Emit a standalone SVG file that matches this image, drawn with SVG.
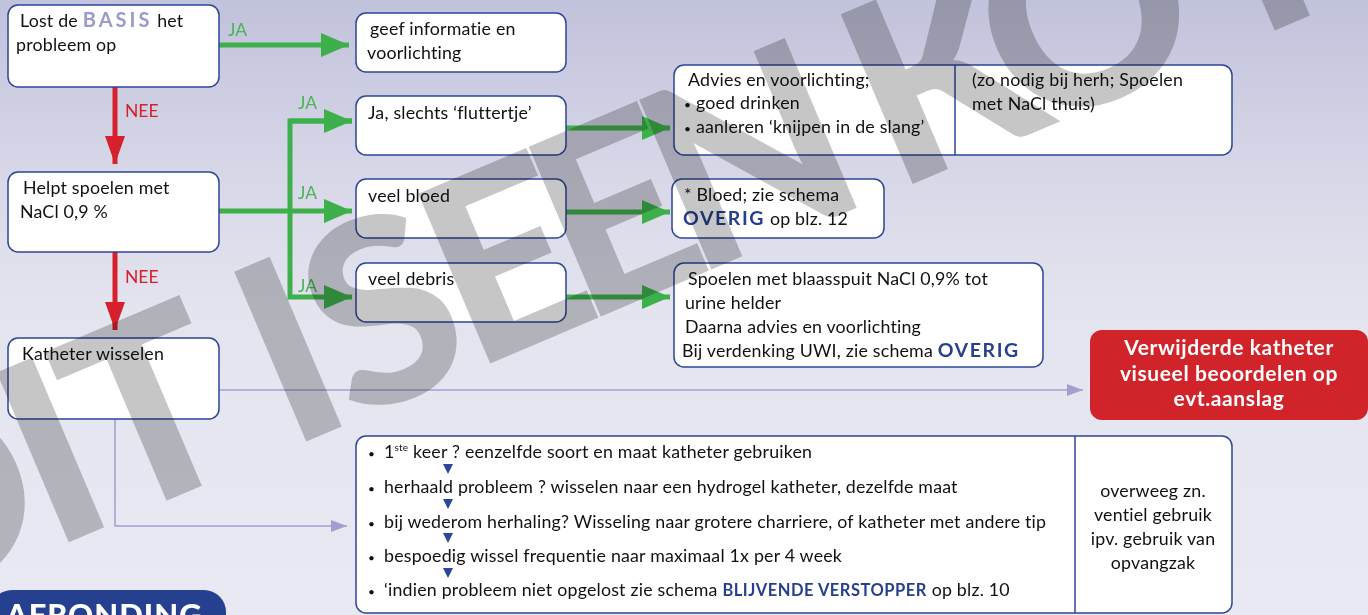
<svg xmlns="http://www.w3.org/2000/svg" width="1368" height="615" viewBox="0 0 1368 615">
<defs>
<linearGradient id="bg" x1="0" y1="0" x2="0" y2="1">
<stop offset="0" stop-color="#c1c2db"/>
<stop offset="0.25" stop-color="#d5d5e7"/>
<stop offset="0.5" stop-color="#e4e4ef"/>
<stop offset="1" stop-color="#e9e9f3"/>
</linearGradient>
<marker id="hg" markerUnits="userSpaceOnUse" markerWidth="28" markerHeight="24" refX="28" refY="12" orient="auto"><path d="M0,0 L28,12 L0,24 z" fill="#3db04b"/></marker>
<marker id="hr" markerUnits="userSpaceOnUse" markerWidth="28" markerHeight="20" refX="28" refY="10" orient="auto"><path d="M0,0 L28,10 L0,20 z" fill="#d6202b"/></marker>
<marker id="hl" markerUnits="userSpaceOnUse" markerWidth="16" markerHeight="12" refX="16" refY="6" orient="auto"><path d="M0,0 L16,6 L0,12 z" fill="#a0a0d0"/></marker>
</defs>
<style>
.box{fill:#fff;stroke:#2c4596;stroke-width:1.5}
.t{font-family:Lato,"Open Sans",sans-serif;font-size:17.8px;letter-spacing:0.2px;fill:#111}
.b{font-weight:bold;fill:#263f8e;font-size:19.5px;letter-spacing:1.6px}
.bv{font-weight:bold;fill:#263f8e;font-size:16.5px;letter-spacing:0.5px}
.bu{font-size:12px}
.g{stroke:#3db04b;stroke-width:5;fill:none}
.r{stroke:#d6202b;stroke-width:5;fill:none}
.l{stroke:#a0a0d0;stroke-width:1.5;fill:none}
.ja{font-family:Lato,"Open Sans",sans-serif;font-size:17.5px;fill:#4bb455}
.nee{font-family:Lato,"Open Sans",sans-serif;font-size:17.5px;fill:#d6202b}
.tri{fill:#2c4596}
</style>
<rect width="1368" height="615" fill="url(#bg)"/>

<g id="connectors">
<line class="g" x1="219" y1="45" x2="349" y2="45" marker-end="url(#hg)"/>
<text class="ja" x="228" y="36">JA</text>
<line class="r" x1="115" y1="87" x2="115" y2="164" marker-end="url(#hr)"/>
<text class="nee" x="125" y="117">NEE</text>
<line class="r" x1="115" y1="252" x2="115" y2="330" marker-end="url(#hr)"/>
<text class="nee" x="125" y="283">NEE</text>
<line class="g" x1="219" y1="211" x2="352" y2="211" marker-end="url(#hg)"/>
<polyline class="g" points="352,121 290,121 290,297 352,297" marker-end="url(#hg)"/>
<line class="g" x1="290" y1="121" x2="352" y2="121" marker-end="url(#hg)"/>
<text class="ja" x="298" y="109">JA</text>
<text class="ja" x="298" y="199">JA</text>
<text class="ja" x="298" y="292">JA</text>
<line class="g" x1="566" y1="128" x2="670" y2="128" marker-end="url(#hg)"/>
<line class="g" x1="566" y1="212" x2="670" y2="212" marker-end="url(#hg)"/>
<line class="g" x1="566" y1="297" x2="670" y2="297" marker-end="url(#hg)"/>
<line class="l" x1="219" y1="390" x2="1083" y2="390" marker-end="url(#hl)"/>
<polyline class="l" points="115,419 115,526 347,526" marker-end="url(#hl)"/>
</g>

<g id="n-basis">
<rect class="box" x="8" y="5" width="211" height="82" rx="10"/>
<text class="t" x="20" y="27">Lost de <tspan font-weight="bold" fill="#9a9acd" font-size="20" letter-spacing="3">BASIS</tspan> het</text>
<text class="t" x="16" y="51">probleem op</text>
</g>
<g id="n-info">
<rect class="box" x="356" y="13" width="210" height="59" rx="10"/>
<text class="t" x="370" y="35">geef informatie en</text>
<text class="t" x="367" y="59">voorlichting</text>
</g>
<g id="n-flutter">
<rect class="box" x="356" y="96" width="210" height="59" rx="10"/>
<text class="t" x="368" y="119">Ja, slechts ‘fluttertje’</text>
</g>
<g id="n-bloed">
<rect class="box" x="356" y="179" width="210" height="59" rx="10"/>
<text class="t" x="368" y="202">veel bloed</text>
</g>
<g id="n-debris">
<rect class="box" x="356" y="263" width="210" height="59" rx="10"/>
<text class="t" x="368" y="285">veel debris</text>
</g>
<g id="n-spoelen">
<rect class="box" x="8" y="172" width="211" height="80" rx="10"/>
<text class="t" x="23" y="194">Helpt spoelen met</text>
<text class="t" x="20" y="218">NaCl 0,9 %</text>
</g>
<g id="n-katheter">
<rect class="box" x="8" y="338" width="211" height="81" rx="10"/>
<text class="t" x="22" y="360">Katheter wisselen</text>
</g>
<g id="n-advies">
<rect class="box" x="674" y="65" width="558" height="90" rx="10"/>
<line x1="955" y1="65" x2="955" y2="155" stroke="#2c4596" stroke-width="1.5"/>
<text class="t" x="688" y="86">Advies en voorlichting;</text>
<text class="t" x="684" y="109"><tspan class="bu">•</tspan> goed drinken</text>
<text class="t" x="684" y="133"><tspan class="bu">•</tspan> aanleren ‘knijpen in de slang’</text>
<text class="t" x="972" y="86">(zo nodig bij herh; Spoelen</text>
<text class="t" x="972" y="110">met NaCl thuis)</text>
</g>
<g id="n-bloedinfo">
<rect class="box" x="672" y="179" width="212" height="59" rx="10"/>
<text class="t" x="684" y="201">* Bloed; zie schema</text>
<text class="t" x="683" y="225"><tspan class="b">OVERIG</tspan> op blz. 12</text>
</g>
<g id="n-blaasspuit">
<rect class="box" x="674" y="263" width="369" height="104" rx="10"/>
<text class="t" x="688" y="285">Spoelen met blaasspuit NaCl 0,9% tot</text>
<text class="t" x="685" y="309">urine helder</text>
<text class="t" x="685" y="333">Daarna advies en voorlichting</text>
<text class="t" x="682" y="357">Bij verdenking UWI, zie schema <tspan class="b">OVERIG</tspan></text>
</g>
<g id="n-verwijderde">
<rect x="1090" y="330" width="278" height="90" rx="12" fill="#d1232a"/>
<g font-family="Lato,'Open Sans',sans-serif" font-size="21" font-weight="bold" letter-spacing="0.6" fill="#fff" text-anchor="middle">
<text x="1229" y="355">Verwijderde katheter</text>
<text x="1229" y="381">visueel beoordelen op</text>
<text x="1229" y="406">evt.aanslag</text>
</g>
</g>
<g id="n-stappen">
<rect class="box" x="356" y="436" width="876" height="177" rx="10"/>
<line x1="1075" y1="436" x2="1075" y2="613" stroke="#2c4596" stroke-width="1.5"/>
<text class="t" x="368" y="458"><tspan class="bu">•</tspan><tspan x="384">1</tspan><tspan font-size="10" dy="-7">ste</tspan><tspan dy="7"> keer ? eenzelfde soort en maat katheter gebruiken</tspan></text>
<polygon class="tri" points="443,464 453,464 448,474"/>
<text class="t" x="368" y="493"><tspan class="bu">•</tspan><tspan x="384">herhaald probleem ? wisselen naar een hydrogel katheter, dezelfde maat</tspan></text>
<polygon class="tri" points="443,499 453,499 448,509"/>
<text class="t" x="368" y="528"><tspan class="bu">•</tspan><tspan x="384">bij wederom herhaling? Wisseling naar grotere charriere, of katheter met andere tip</tspan></text>
<polygon class="tri" points="443,533 453,533 448,543"/>
<text class="t" x="368" y="562"><tspan class="bu">•</tspan><tspan x="384">bespoedig wissel frequentie naar maximaal 1x per 4 week</tspan></text>
<polygon class="tri" points="443,568 453,568 448,578"/>
<text class="t" x="368" y="596"><tspan class="bu">•</tspan><tspan x="384">‘indien probleem niet opgelost zie schema </tspan><tspan class="bv">BLIJVENDE VERSTOPPER</tspan> op blz. 10</text>
<g text-anchor="middle">
<text class="t" x="1153" y="497">overweeg zn.</text>
<text class="t" x="1153" y="521">ventiel gebruik</text>
<text class="t" x="1153" y="545">ipv. gebruik van</text>
<text class="t" x="1153" y="569">opvangzak</text>
</g>
</g>
<g id="n-afronding">
<rect x="-10" y="590" width="236" height="60" rx="22" fill="#24408e"/>
<text x="6" y="626" font-family="Lato,'Open Sans',sans-serif" font-size="31" font-weight="900" fill="#fff" letter-spacing="1">AFRONDING</text>
</g>

<g id="watermark" style="mix-blend-mode:multiply" transform="translate(86,535) rotate(-23)">
<text x="-221 -38 30 170 220 290 410 420 540 660 840 879 1020 1272 1430 1500" y="0" font-family="Lato,'Open Sans',sans-serif" font-size="254" font-weight="900" fill="#c6c6c6">DIT IS EEN KOPIE</text>
</g>
</svg>
